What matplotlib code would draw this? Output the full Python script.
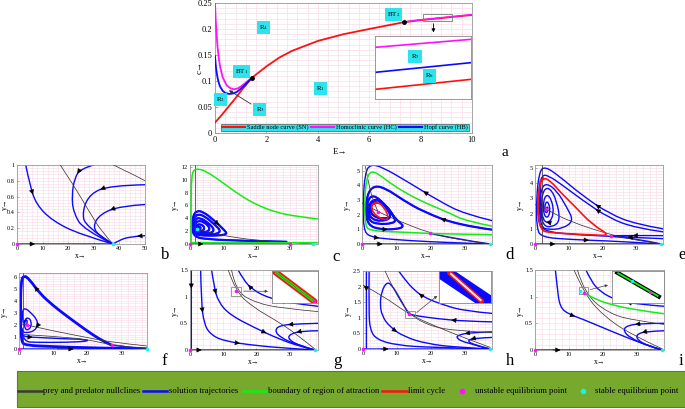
import numpy as np
import matplotlib
matplotlib.use('Agg')
import matplotlib.pyplot as plt
from matplotlib.path import Path
from matplotlib.patches import PathPatch, Rectangle
from matplotlib.lines import Line2D
from matplotlib.ticker import AutoMinorLocator, FormatStrFormatter

plt.rcParams['font.family'] = ['Liberation Serif', 'DejaVu Serif']
plt.rcParams['mathtext.fontset'] = 'stix'

BLUE, RED, GREEN, MAG, CYAN, BLK = '#0a0aff', '#ff1010', '#12ee12', '#ff10ff', '#10f4f4', '#3a3a3a'
BOXC = '#2ee4ec'
GRIDC = '#f8d9e6'

# ---------------- panel a : bifurcation diagram ----------------
sn_E = [0, 0.25, 0.5, 0.75, 1.0, 1.43, 2.0, 2.5, 3.0, 4.0, 5.0, 6.0, 7.34, 8.0, 9.0, 10.0]
sn_c = [0.02, 0.034, 0.049, 0.064, 0.08, 0.106, 0.128, 0.145, 0.158, 0.177, 0.19, 0.2, 0.213, 0.217, 0.222, 0.227]
hc_E = [0, 0.03, 0.06, 0.1, 0.15, 0.2, 0.3, 0.45, 0.6, 0.75, 0.9, 1.05, 1.2, 1.43]
hc_c = [0.25, 0.215, 0.19, 0.165, 0.143, 0.127, 0.107, 0.092, 0.086, 0.084, 0.086, 0.091, 0.097, 0.106]
hc2_E = [7.34, 8.0, 9.0, 10.0]
hc2_c = [0.2135, 0.2177, 0.2227, 0.2277]
hb_E = [0, 0.03, 0.06, 0.1, 0.15, 0.2, 0.3, 0.4, 0.55, 0.7, 0.85, 1.0, 1.2, 1.43]
hb_c = [0.148, 0.13, 0.118, 0.106, 0.096, 0.089, 0.081, 0.077, 0.075, 0.076, 0.079, 0.085, 0.094, 0.106]
bt_E = [1.43, 7.34]
bt_c = [0.106, 0.213]
bt_names = ['BT$_1$', 'BT$_2$']
bt_lab_E = [1.04, 6.95]
bt_lab_c = [0.119, 0.228]
reg_names = ['R$_1$', 'R$_2$', 'R$_4$']
reg_E = [4.09, 0.22, 1.88]
reg_c = [0.085, 0.065, 0.202]
# zoomed inset (relative units)
zm_x = [0, 1]
zm_hc = [0.82, 0.947]
zm_hb = [0.423, 0.577]
zm_sn = [0.153, 0.312]

# ---------------- panel b ----------------
b_null = [[(16.9, 1.0), (22, 0.75), (28.6, 0.39), (33, 0.16), (37.5, 0)],
          [(37.7, 1.0), (42, 0.93), (46, 0.87), (50, 0.8)]]
b_traj = [[(3.4, 1.0), (5.0, 0.75), (7.5, 0.5), (14, 0.29), (24.7, 0.12), (37.5, 0)],
          [(29.9, 1.0), (24.7, 0.95), (22.5, 0.83), (21.4, 0.62), (22, 0.4), (26, 0.18), (37.5, 0)],
          [(50, 0.75), (36.4, 0.74), (28.6, 0.64), (25.5, 0.42), (26.6, 0.22), (37.5, 0)],
          [(50, 0.5), (40.3, 0.48), (32.5, 0.38), (29.5, 0.22), (32.5, 0.09), (37.5, 0)],
          [(50, 0.105), (44, 0.095), (39.5, 0.04), (37.5, 0)],
          [(0, 0), (14, 0), (37.5, 0)]]
b_unst = [(0, 0)]
b_stab = [(37.5, 0)]

# ---------------- panel c ----------------
c_null = [[(1.5, 0), (1.5, 12.3)],
          [(0.2, 2.7), (3, 2.2), (7, 1.67), (14, 0.95), (22, 0.5), (30, 0.2), (37, 0)]]
c_green = [[(0.35, 0.2), (0.3, 6), (0.45, 10.6), (1.2, 11.6), (2.5, 11.7), (5, 11.3), (10, 9.5),
            (15, 7.6), (20, 6.1), (26, 4.9), (32, 4.3), (38.5, 3.9)],
           [(0.35, 0.2), (20, 0.2), (38.5, 0.2)]]
c_traj = [[(29, 0.35), (15, 0.5), (5, 0.75), (1.3, 1.1), (0.6, 2.5), (0.8, 4.3), (2, 5.2), (4, 5.0), (7, 3.8),
           (10.5, 2.1), (11.2, 1.5), (8, 1.3), (4, 1.3), (1.5, 1.5), (0.9, 2.6), (1.2, 4.0), (2.3, 4.7),
           (4.5, 4.3), (7.5, 3.0), (9.5, 1.9), (7, 1.45), (3.5, 1.45), (1.5, 1.8), (1.1, 2.8), (1.6, 3.9),
           (3, 4.1), (5.5, 3.3), (7.5, 2.2), (6, 1.6), (3, 1.6), (1.6, 2.1), (1.5, 3.0), (2.2, 3.6), (4, 3.5),
           (6, 2.6), (5.5, 1.9), (3.2, 1.8), (2, 2.3), (2.1, 3.0), (3.2, 3.1), (4.5, 2.6), (3.8, 2.0),
           (2.6, 2.1), (2.3, 2.6), (3, 2.7), (3.3, 2.4), (2.6, 2.3), (2.2, 2.4)],
          [(0, 0), (8, 0), (30, 0)]]
c_unst = [(0, 0), (30, 0)]
c_stab = [(37, 0), (2.2, 2.4)]

# ---------------- panel d ----------------
d_null = [[(1.0, 5.3), (2.0, 4.0), (3.5, 2.8), (4.7, 2.2)],
          [(0, 2.8), (4.7, 2.2), (10, 1.65), (19.9, 0.72), (30, 0.22), (37.5, 0)]]
d_green = [[(38, 1.22), (30, 1.6), (25.8, 2.1), (19, 2.75), (13, 3.45), (8, 4.2), (5, 4.75), (2.7, 5.0),
            (1.3, 4.5), (0.7, 2.7), (1.0, 1.2), (2.5, 0.92), (8, 0.84), (13, 0.8), (19.9, 0.72)],
           [(19.9, 0.72), (25, 0.69), (30, 0.67), (38, 0.64)]]
d_traj = [[(38, 1.6), (30, 2.05), (22.8, 2.9), (13, 4.3), (6, 5.25), (2.5, 5.45), (0.9, 4.9), (0.25, 2.7),
           (0.5, 1.0), (2, 0.5), (8, 0.32), (20, 0.15), (30, 0.06), (37.5, 0)],
          [(38, 0.98), (28, 1.3), (18, 2.2), (12, 3.0), (7, 3.8), (3.5, 4.0), (1.5, 3.4), (1.0, 2.2), (1.8, 1.3),
           (5, 1.0), (10, 1.0), (12.5, 1.2), (10, 1.65), (7, 2.6), (4, 3.3), (2, 3.2), (1.3, 2.4), (2, 1.6),
           (4.5, 1.35), (9, 1.4), (10, 1.65), (7, 2.7), (4, 3.1), (2.2, 2.8), (1.8, 2.2), (2.8, 1.7),
           (5.5, 1.55), (8.5, 1.75), (7.8, 2.3), (5, 3.0), (3, 2.9), (2.4, 2.3), (3.2, 1.9), (6, 1.7), (8, 1.8)],
          [(19.9, 0.72), (28, 0.32), (37.5, 0)],
          [(0, 0), (12, 0), (37.5, 0)]]
d_cycle = [(3, 2.7), (4.5, 2.9), (6.5, 2.5), (7.8, 1.85), (7, 1.62), (5, 1.8), (3.2, 2.15), (2.8, 2.5),
           (3, 2.7), (4.5, 2.9)]
d_unst = [(0, 0), (4.7, 2.2), (19.9, 0.72)]
d_stab = [(37.5, 0)]

# ---------------- panel e ----------------
e_null = [[(2.2, 0), (2.2, 5.2)],
          [(0, 2.6), (3.3, 2.3), (10, 1.5), (22.5, 0.6), (30, 0.25), (37.5, 0)]]
e_cycle = [(1.5, 4.1), (2.5, 4.35), (4.4, 4.2), (8, 3.3), (11.3, 2.6), (17, 1.27), (22.5, 0.55), (17, 0.6),
           (11.3, 0.66), (4, 0.75), (1.5, 0.94), (0.7, 2.6), (1.5, 4.1), (2.5, 4.35)]
e_traj = [[(3.3, 2.3), (3.6, 2.5), (3.9, 2.3), (3.5, 2.0), (2.9, 2.2), (3.0, 2.7), (3.9, 2.8), (4.6, 2.2),
           (3.8, 1.7), (2.6, 1.9), (2.4, 2.8), (3.5, 3.3), (5, 2.9), (5.6, 2.0), (4.3, 1.4), (2.4, 1.5),
           (1.8, 2.6), (2.5, 3.6), (4.5, 3.7), (6.5, 2.8), (7.5, 1.5), (5, 1.1), (2.3, 1.2), (1.4, 2.5),
           (1.9, 3.7), (3.5, 4.0), (6.5, 3.5), (9.5, 2.4), (11.5, 1.5), (8, 1.0), (4, 0.95), (1.8, 1.1),
           (1.1, 2.6), (1.7, 3.9)],
          [(38, 1.0), (30, 1.3), (22, 2.0), (14, 3.2), (7, 4.5), (3, 5.1), (1.3, 4.8), (0.4, 3.0), (0.5, 1.0),
           (2, 0.45), (10, 0.3), (22, 0.2), (30, 0.1), (37.5, 0)],
          [(38, 0.8), (30, 1.05), (22, 1.7), (14, 2.9), (8, 3.9), (4, 4.5), (2, 4.55), (1, 3.5), (0.8, 1.5),
           (2.5, 0.85), (11, 0.62), (22, 0.52), (30, 0.35), (37.5, 0)],
          [(38, 0.55), (32, 0.56), (26, 0.55), (22.5, 0.55)],
          [(38, 0.35), (30, 0.42), (25, 0.5), (22.5, 0.55)],
          [(0, 0), (12, 0), (37.5, 0)]]
e_unst = [(0, 0), (3.3, 2.3), (22.5, 0.55)]
e_stab = [(37.5, 0)]

# ---------------- panel f ----------------
f_null = [[(1.2, 0), (1.2, 6.3)],
          [(0.3, 2.1), (2.2, 2.0), (10, 1.5), (20, 0.95), (27.3, 0.55), (37.5, 0.25)],
          [(1.5, 1.2), (10, 1.05), (20, 0.8), (27.3, 0.3), (37.5, 0.02)]]
f_thick = [(27.3, 0.3), (25, 0.6), (21.7, 1.16), (18, 1.9), (13.9, 2.75), (10, 3.6), (6.1, 4.6), (3, 5.8),
           (1.5, 6.1), (0.6, 5.7), (0.4, 3), (0.6, 0.6), (2, 0.3), (10, 0.2), (20, 0.1), (37.5, 0)]
f_traj = [[(2.2, 2.0), (2.5, 2.25), (2.2, 2.45), (1.6, 2.2), (1.7, 1.7), (2.5, 1.55), (3.5, 1.8), (3.6, 2.3),
           (2.8, 2.6), (1.8, 2.5), (1.35, 2.0), (1.0, 2.6), (1.0, 3.2), (1.8, 3.4), (3.5, 3.0), (5.1, 2.5),
           (5.6, 2.0), (4.5, 1.5), (2.5, 1.35), (1.0, 1.4), (0.7, 1.9), (0.8, 1.2), (2, 1.0), (6, 0.95),
           (13, 0.85), (19.5, 0.8), (20.5, 0.65), (14, 0.55), (5, 0.55), (1.5, 0.6), (0.9, 1.3)],
          [(37.5, 0.05), (32, 0.15), (27.3, 0.3)],
          [(0, 0), (32, 0), (37.5, 0)]]
f_unst = [(0, 0), (2.2, 2.0), (27.3, 0.3)]
f_stab = [(37.5, 0)]

# ---------------- panel g ----------------
g_null = [[(11.5, 1.5), (13.7, 1.1), (19, 0.8), (26, 0.55), (32, 0.3), (37.5, 0.02)],
          [(12.5, 1.5), (13.7, 1.1), (20, 0.88), (28, 0.78), (38.5, 0.72)]]
g_traj = [[(0.4, 1.5), (0.4, 0.8), (0.4, 0.03)],
          [(3.2, 1.5), (3.4, 0.9), (4.2, 0.5), (6, 0.3), (10, 0.17), (20, 0.08), (30, 0.03), (37.5, 0)],
          [(6.5, 1.5), (7.2, 1.2), (8.5, 0.9), (12, 0.66), (19, 0.43), (27, 0.2), (33, 0.07), (37.5, 0)],
          [(38.5, 0.82), (30, 0.88), (24, 0.97), (19, 1.12), (16, 1.32), (14.5, 1.5)],
          [(38.5, 0.5), (32, 0.49), (27, 0.46), (25.5, 0.37), (27, 0.24), (32, 0.1), (37.5, 0)],
          [(38.5, 0.36), (34, 0.36), (30, 0.3), (29.5, 0.2), (33, 0.08), (37.5, 0)],
          [(0, 0), (7, 0), (37.5, 0)]]
g_unst = [(0, 0), (13.7, 1.1)]
g_stab = [(37.5, 0)]

# ---------------- panel h ----------------
h_null = [[(0, 2.05), (6, 1.7), (13.5, 1.11), (22, 0.7), (30, 0.35), (37.5, 0.05)],
          [(6.5, 2.5), (9, 1.9), (13.5, 1.11), (20, 0.72), (28, 0.58), (38, 0.52)]]
h_traj = [[(1, 2.5), (1, 1.2), (1, 0.03)],
          [(1.8, 2.5), (1.7, 1.2), (2.1, 0.6), (4.1, 0.3), (10, 0.12), (20, 0.05), (37.5, 0)],
          [(13.5, 1.11), (11, 1.6), (8.5, 2.05), (7, 2.15), (5.5, 1.85), (5, 1.45), (5.6, 1.05), (8, 0.7),
           (12, 0.4), (18.6, 0.17), (28, 0.05), (37.5, 0)],
          [(38, 1.14), (30, 1.22), (24, 1.4), (18, 1.65), (15, 1.9), (12.5, 2.2), (10.5, 2.5)],
          [(38, 0.87), (30, 0.89), (22, 0.97), (16, 1.06), (14.2, 1.1)],
          [(38, 0.55), (32, 0.53), (28, 0.45), (27.5, 0.35), (30, 0.2), (37.5, 0)],
          [(38, 0.37), (33, 0.35), (30.5, 0.27), (33, 0.12), (37.5, 0)],
          [(0, 0), (15, 0), (37.5, 0)]]
h_unst = [(0, 0), (13.5, 1.11)]
h_stab = [(37.5, 0)]

# ---------------- panel i ----------------
i_null = [[(11.5, 1.5), (14.5, 1.06), (20, 0.65), (28, 0.3), (37.5, 0.02)],
          [(12.5, 1.5), (14.5, 1.06), (21.8, 0.68), (29.6, 0.55), (38, 0.48)]]
i_green = [[(14.5, 1.06), (18, 0.95), (21.8, 0.86), (29.6, 0.75), (38, 0.68)]]
i_traj = [[(6.0, 1.5), (6.5, 1.2), (7.3, 0.8), (10, 0.67), (13.6, 0.59), (21.8, 0.37), (31.5, 0.12), (37.5, 0)],
          [(38, 0.82), (30, 0.86), (24, 0.93), (19, 1.1), (16.5, 1.3), (15, 1.5)],
          [(38, 0.5), (32, 0.5), (27, 0.46), (26, 0.36), (28, 0.23), (33, 0.08), (37.5, 0)],
          [(38, 0.36), (33, 0.35), (30, 0.3), (30, 0.2), (33, 0.08), (37.5, 0)],
          [(0, 0), (15, 0), (37.5, 0)]]
i_unst = [(0, 0), (14.5, 1.06)]
i_stab = [(37.5, 0), (13.4, 1.11)]

legend_labels = ['prey and predator nullclines', 'solution trajectories', 'boundary of region of attraction',
                 'limit cycle', 'unstable equilibrium point', 'stable equilibrium point']


fig = plt.figure(figsize=(6.85, 4.09), dpi=100)


def fax(l, t, r, b):
    return fig.add_axes([l / 685, 1 - b / 409, (r - l) / 685, (b - t) / 409])


def ftext(x, y, s, **kw):
    fig.text(x / 685, 1 - y / 409, s, **kw)


def curve(ax, pts, color, lw=1.0, arrows=(), z=2):
    p = np.array(pts, float)
    if len(p) < 3:
        verts, codes = list(p), [Path.MOVETO] + [Path.LINETO] * (len(p) - 1)
    else:
        verts, codes = [p[0]], [Path.MOVETO]
        for k in range(1, len(p) - 1):
            end = p[k + 1] if k == len(p) - 2 else (p[k] + p[k + 1]) / 2
            verts += [p[k], end]
            codes += [Path.CURVE3, Path.CURVE3]
    ax.add_patch(PathPatch(Path(verts, codes), fc='none', ec=color, lw=lw, zorder=z,
                           capstyle='round', joinstyle='round'))
    for k in arrows:
        a, b = p[k], p[k + 1]
        m = (a + b) / 2
        ax.annotate('', xy=m, xytext=m - (b - a) * 0.15,
                    arrowprops=dict(arrowstyle='-|>,head_length=0.6,head_width=0.3', color='k', lw=0.4,
                                    shrinkA=0, shrinkB=0, mutation_scale=5), zorder=z + 2)


def style(ax, xlim, ylim, xt, yt, ylab_x):
    ax.set_xlim(xlim)
    ax.set_ylim(ylim)
    ax.set_xticks(xt)
    ax.set_yticks(yt)
    ax.yaxis.set_major_formatter(FormatStrFormatter('%g'))
    ax.xaxis.set_minor_locator(AutoMinorLocator(5))
    ax.yaxis.set_minor_locator(AutoMinorLocator(5))
    ax.grid(True, which='both', color=GRIDC, lw=0.4)
    ax.set_axisbelow(True)
    ax.tick_params(which='major', direction='in', length=1.5, width=0.4, labelsize=4.5, pad=1.5, color='#777')
    ax.tick_params(which='minor', length=0)
    for s in ax.spines.values():
        s.set_color('#999999')
        s.set_linewidth(0.6)
    ax.set_xlabel('x→', fontsize=5.5, labelpad=1)
    ax.set_ylabel('y→', fontsize=5.5)
    ax.yaxis.set_label_coords(ylab_x, 0.5)


def points(ax, unst, stab):
    for pts, col in ((unst, MAG), (stab, CYAN)):
        xs, ys = zip(*pts)
        ax.plot(xs, ys, 'o', color=col, ms=2.6, mec='none', clip_on=False, zorder=8)


def inset(l, t, r, b):
    ia = fax(l, t, r, b)
    ia.set_xlim(0, 1)
    ia.set_ylim(0, 1)
    ia.set_xticks([])
    ia.set_yticks([])
    for s in ia.spines.values():
        s.set_color('#888888')
        s.set_linewidth(0.6)
    return ia


# ---------------- draw panel a ----------------
ax = fax(215, 3, 472, 133)
ax.plot(sn_E, sn_c, color=RED, lw=1.3, zorder=3)
ax.plot(hc_E, hc_c, color=MAG, lw=1.3, zorder=3)
ax.plot(hc2_E, hc2_c, color=MAG, lw=1.1, zorder=3)
ax.plot(hb_E, hb_c, color=BLUE, lw=1.3, zorder=3)
ax.plot(bt_E, bt_c, 'o', color='k', ms=2.5, zorder=5)
box = dict(boxstyle='square,pad=0.3', fc=BOXC, ec='none')
for n, e, c in zip(bt_names, bt_lab_E, bt_lab_c):
    ax.text(e, c, n, fontsize=5, ha='center', va='center', bbox=box, zorder=6)
for n, e, c in zip(reg_names, reg_E, reg_c):
    ax.text(e, c, n, fontsize=5, ha='center', va='center', bbox=box, zorder=6)
ax.annotate('R$_3$', xy=(0.45, 0.085), xytext=(1.75, 0.045), fontsize=5, ha='center', va='center',
            bbox=box, arrowprops=dict(arrowstyle='-|>', color='#333333', lw=0.6, mutation_scale=5), zorder=6)
ax.add_patch(Rectangle((8.09, 0.2155), 1.13, 0.0135, fc='none', ec='#777777', lw=0.6, zorder=4))
ax.annotate('', xy=(8.5, 0.188), xytext=(8.5, 0.2155),
            arrowprops=dict(arrowstyle='-|>', color='k', lw=0.6, mutation_scale=5))
ax.set_xlim(0, 10)
ax.set_ylim(0, 0.25)
ax.set_xticks(range(0, 11, 2))
ax.set_yticks([0, 0.05, 0.1, 0.15, 0.2, 0.25])
ax.yaxis.set_major_formatter(FormatStrFormatter('%g'))
ax.xaxis.set_minor_locator(AutoMinorLocator(5))
ax.yaxis.set_minor_locator(AutoMinorLocator(5))
ax.grid(True, which='both', color=GRIDC, lw=0.45)
ax.set_axisbelow(True)
ax.tick_params(which='major', direction='in', length=2, width=0.4, labelsize=6, pad=2, color='#777')
ax.tick_params(which='minor', length=0)
for s in ax.spines.values():
    s.set_color('#999999')
    s.set_linewidth(0.6)
handles = [Line2D([], [], color=RED, lw=1.5, label='Saddle node curve (SN)'),
           Line2D([], [], color=MAG, lw=1.5, label='Homoclinic curve (HC)'),
           Line2D([], [], color=BLUE, lw=1.5, label='Hopf curve (HB)')]
leg = ax.legend(handles=handles, ncol=3, mode='expand', loc='lower left',
                bbox_to_anchor=(0.023, 0.012, 0.965, 0.065), fontsize=4.6, handlelength=3.6,
                handletextpad=0.4, columnspacing=0.4, borderpad=0.15, borderaxespad=0,
                fancybox=False, framealpha=1, facecolor=BOXC, edgecolor='#555555')
leg.get_frame().set_linewidth(0.5)
leg.set_zorder(7)
ftext(200, 68, 'c→', fontsize=6.5, rotation=90, ha='center', va='center')
ftext(340, 152, 'E→', fontsize=6.5, ha='center', va='center')
ftext(505, 152, 'a', fontsize=11, ha='center', va='center')

ia = inset(375, 36, 471, 99)
ia.plot(zm_x, zm_hc, color=MAG, lw=1.2)
ia.plot(zm_x, zm_hb, color=BLUE, lw=1.2)
ia.plot(zm_x, zm_sn, color=RED, lw=1.2)
ia.text(0.417, 0.67, 'R$_5$', fontsize=5, ha='center', va='center', bbox=box)
ia.text(0.57, 0.365, 'R$_6$', fontsize=5, ha='center', va='center', bbox=box)

# ---------------- phase portraits ----------------
panels = [
    ('b', (17, 165, 145, 244), (0, 50), (0, 1), range(0, 51, 10), [0, 0.2, 0.4, 0.6, 0.8, 1],
     b_null, [], b_traj, None, b_unst, b_stab, [(1,), (1,), (1,), (1,), (0,), (0,)], (165, 255)),
    ('c', (190, 165, 318, 244), (0, 38.5), (0, 12.3), [0, 10, 20, 30], range(0, 13, 2),
     c_null, c_green, c_traj, None, c_unst, c_stab, [(8,), (0,)], (336, 257)),
    ('d', (362, 165, 492, 244), (0, 38), (0, 5.4), [0, 10, 20, 30], range(0, 6),
     d_null, d_green, d_traj, d_cycle, d_unst, d_stab, [(2, 9), (1, 9), (), (0,)], (510, 255)),
    ('e', (535, 165, 663, 244), (0, 38), (0, 5.2), [0, 10, 20, 30], range(0, 6),
     e_null, [], e_traj, e_cycle, e_unst, e_stab, [(14,), (2, 10), (2,), (1,), (1,), (0,)], (682, 255)),
    ('f', (19, 273, 147, 349), (0, 37.5), (0, 6.3), [0, 10, 20, 30], range(0, 7),
     f_null, [], f_traj, None, f_unst, f_stab, [(16, 22), (), (0,)], (164, 361)),
    ('g', (190, 270, 318, 350), (0, 38.5), (0, 1.5), [0, 10, 20, 30], [0, 0.5, 1, 1.5],
     g_null, [], g_traj, None, g_unst, g_stab, [(0,), (1, 4), (1, 4), (1, 3), (1,), (1,), (0,)], (337, 361)),
    ('h', (363, 271, 492, 349), (0, 38), (0, 2.5), [0, 10, 20, 30], [0, 0.5, 1, 1.5, 2, 2.5],
     h_null, [], h_traj, None, h_unst, h_stab, [(0,), (), (7,), (3,), (1,), (1,), (1,), (0,)], (510, 361)),
    ('i', (535, 270, 664, 350), (0, 38), (0, 1.5), [0, 10, 20, 30], [0, 0.5, 1, 1.5],
     i_null, i_green, i_traj, None, i_unst, i_stab, [(3,), (1,), (1,), (1,), (0,)], (681, 361)),
]

axes = {}
for (name, box_px, xl, yl, xt, yt, nulls, greens, trajs, cyc, unst, stab, arr, lab) in panels:
    ax = fax(*box_px)
    ylab_x = -0.062 if name == 'b' else -0.085
    style(ax, xl, yl, xt, yt, ylab_x)
    for pts in nulls:
        curve(ax, pts, BLK, lw=0.55, z=3)
    for pts in greens:
        curve(ax, pts, GREEN, lw=1.1, z=4)
    for pts, ar in zip(trajs, arr):
        curve(ax, pts, BLUE, lw=1.0, arrows=ar, z=2)
    if cyc is not None:
        curve(ax, cyc, RED, lw=1.2, z=5)
    points(ax, unst, stab)
    ftext(lab[0], lab[1], name, fontsize=12, ha='center', va='center')
    axes[name] = ax

curve(axes['f'], f_thick, BLUE, lw=2.0, arrows=(6,), z=2)
curve(axes['c'], c_traj[0], BLUE, lw=1.6, z=2)
curve(axes['d'], d_traj[1], BLUE, lw=1.6, z=2)

# zoom boxes + insets in g, h, i
for name, rect, tip in (('g', (12.3, 1.02, 3.0, 0.17), (24.3, 1.1)),
                        ('h', (12.5, 1.0, 2.7, 0.23), (22.5, 1.76)),
                        ('i', (12.9, 1.05, 2.6, 0.14), (22.3, 1.23))):
    a = axes[name]
    a.add_patch(Rectangle(rect[:2], rect[2], rect[3], fc='none', ec='#888888', lw=0.6, zorder=6))
    a.annotate('', xy=tip, xytext=(rect[0] + rect[2], rect[1] + rect[3] / 2),
               arrowprops=dict(arrowstyle='-|>', color='#444444', lw=0.5, mutation_scale=4), zorder=6)

ig = inset(272, 271, 318, 303)
ig.plot([0.07, 0.92], [0.97, 0.05], color=RED, lw=4.5, solid_capstyle='round')
ig.plot([0.1, 0.9], [0.94, 0.07], color=GREEN, lw=2.0)
ig.plot([0.1, 0.9], [0.94, 0.07], color='k', lw=0.4, ls=':')
ig.plot([0.92], [0.05], 'o', color=MAG, ms=2.5, mec='none')

ih = inset(439, 271, 491, 303)
ih.plot([-0.05, 1.05], [1.1, -0.1], color=BLUE, lw=11)
ih.plot([0.2, 0.82], [0.95, 0.06], color=RED, lw=3.5, solid_capstyle='round')
ih.plot([0.23, 0.8], [0.91, 0.09], color='white', lw=1.4)
ih.plot([0.23, 0.8], [0.91, 0.09], color='#888888', lw=0.4, ls=':')

ii = inset(612, 271, 664, 303)
ii.plot([0.1, 0.9], [0.95, 0.2], color='k', lw=3.0)
ii.plot([0.12, 0.88], [0.93, 0.22], color=GREEN, lw=1.3)
ii.plot([0.39], [0.68], 'o', color=CYAN, ms=2.5, mec='none')
ii.plot([0.74], [0.35], 'o', color=MAG, ms=2.5, mec='none')

# ---------------- bottom legend bar ----------------
fig.patches.append(Rectangle((17 / 685, 0.004), 668 / 685, 36 / 409, transform=fig.transFigure,
                             fc='#77a92f', ec='#5d7d2a', lw=0.8, zorder=0))
ly = 1 - 391 / 409
seg_cols = [BLK, BLUE, GREEN, RED]
seg_x = [(18, 42), (143, 167), (243, 267), (382, 407)]
txt_x = [43, 169, 268, 408, 475, 595]
for col, (x0, x1) in zip(seg_cols, seg_x):
    fig.lines.append(Line2D([x0 / 685, x1 / 685], [ly, ly], transform=fig.transFigure, color=col, lw=1.8))
for col, x in ((MAG, 462), (CYAN, 583)):
    fig.lines.append(Line2D([x / 685], [ly], transform=fig.transFigure, marker='o', color=col, ms=4,
                            mec='none', ls='none'))
for s, x in zip(legend_labels, txt_x):
    fig.text(x / 685, ly, s, fontsize=6.2, ha='left', va='center')

fig.savefig('out.png', dpi=100)
